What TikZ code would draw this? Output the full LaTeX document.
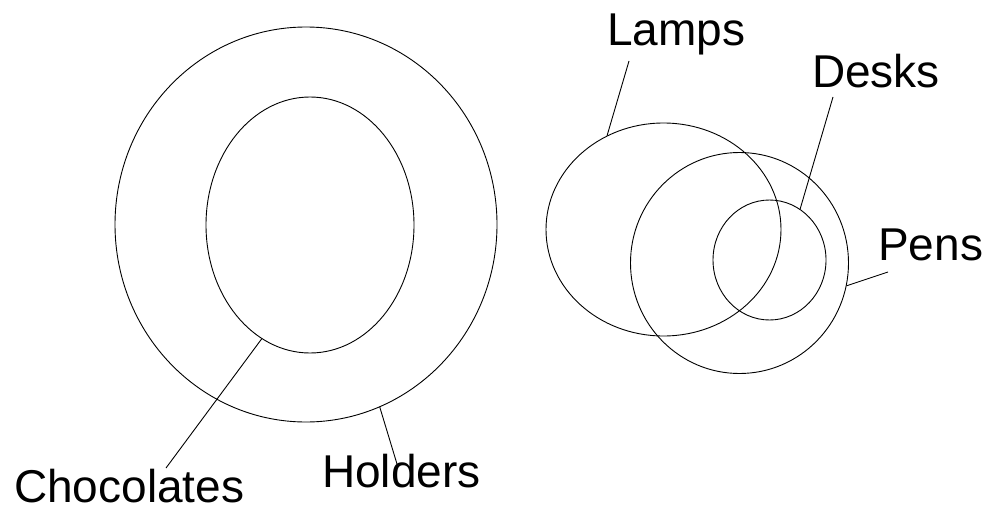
\documentclass[tikz,border=0pt]{standalone}
\usepackage{fontspec}
\setmainfont{Liberation Sans}
\usetikzlibrary{shapes.geometric}
\begin{document}
\begin{tikzpicture}[x=1pt,y=-1pt,
  setshape/.style={draw=black, line width=0.9pt, ellipse, inner sep=0pt},
  lbl/.style={anchor=base west, inner sep=0pt, font=\fontsize{46}{50}\selectfont},
  conn/.style={draw=black, line width=0.9pt}]
\useasboundingbox (0,0) rectangle (996,514);
% sets
\node[setshape, minimum width=382pt, minimum height=395pt] (holders) at (306,224.5) {};
\node[setshape, minimum width=208pt, minimum height=256pt] (choc) at (310,225) {};
\node[setshape, minimum width=235pt, minimum height=213pt] (lamps) at (663.5,229.5) {};
\node[setshape, minimum width=218pt, minimum height=221pt] (pens) at (739.5,263) {};
\node[setshape, minimum width=113pt, minimum height=120pt] (desks) at (769.5,260) {};
% labels
\node[lbl] (lchoc) at (14,502) {Chocolates};
\node[lbl] (lhold) at (322,487) {Holders};
\node[lbl] (llamps) at (607,45) {Lamps};
\node[lbl] (ldesks) at (812,87) {Desks};
\node[lbl] (lpens) at (878,260) {Pens};
% free ends
\coordinate (echoc) at (166,468);
\coordinate (ehold) at (397,464);
\coordinate (elamps) at (629,61);
\coordinate (edesks) at (833,97);
\coordinate (epens) at (888,272);
% connectors
\draw[conn] (choc.247) -- (echoc);
\draw[conn] (holders.-68.6) -- (ehold);
\draw[conn] (lamps.121.7) -- (elamps);
\draw[conn] (desks.59.6) -- (edesks);
\draw[conn] (pens.-12.8) -- (epens);
\end{tikzpicture}
\end{document}
